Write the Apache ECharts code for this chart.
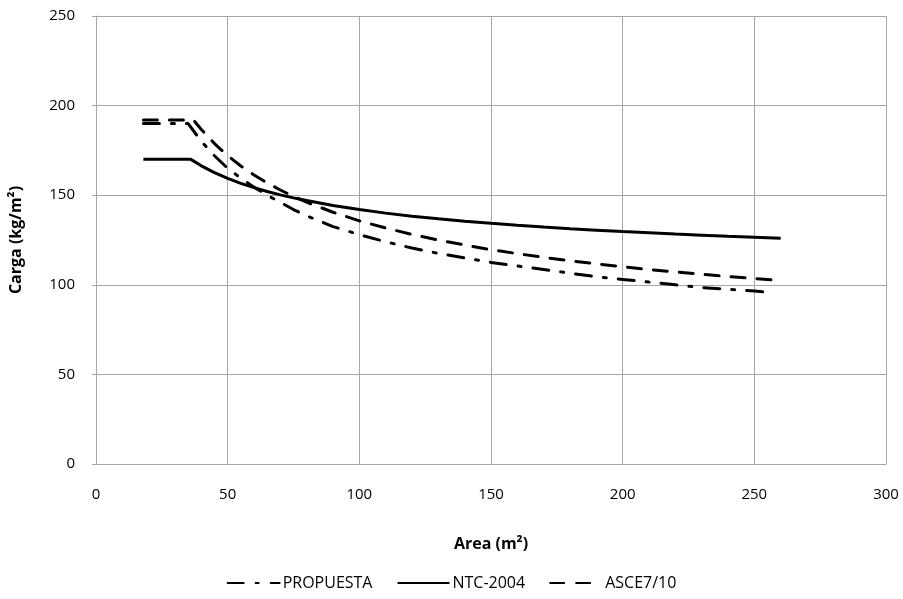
<!DOCTYPE html>
<html>
<head>
<meta charset="utf-8">
<script src="https://cdn.jsdelivr.net/npm/echarts@6/dist/echarts.min.js"></script>
<style>html,body{margin:0;padding:0;background:#fff}#c{width:903px;height:599px}</style>
</head>
<body>
<div id="c"></div>
<script>
const xTicks = [0, 50, 100, 150, 200, 250, 300];
const yTicks = [0, 50, 100, 150, 200, 250];

const propuestaX = [18, 35, 40, 45, 50, 55, 60, 65, 70, 75, 80, 90, 100, 110, 120, 130, 140, 150, 160, 170, 180, 190, 200, 210, 220, 230, 240, 250, 256];
const propuestaY = [190, 190, 180, 172, 165, 159.5, 154.5, 150, 146, 142, 138.5, 132.5, 128, 124, 120.5, 117.5, 115, 112.5, 110.5, 108.5, 106.5, 104.5, 103, 101.5, 100, 98.5, 97.5, 96.5, 95.7];

const ntcX = [18, 36, 40, 45, 50, 55, 60, 65, 70, 75, 80, 90, 100, 110, 120, 130, 140, 150, 160, 170, 180, 190, 200, 210, 220, 230, 240, 250, 260];
const ntcY = [170, 170, 166.4, 162.6, 159.4, 156.6, 154.2, 152.1, 150.2, 148.5, 147, 144.3, 142, 140, 138.3, 136.8, 135.5, 134.3, 133.2, 132.2, 131.3, 130.5, 129.7, 129, 128.3, 127.7, 127.1, 126.6, 126];

const asceX = [18, 37, 40, 45, 50, 55, 60, 65, 70, 75, 80, 90, 100, 110, 120, 130, 140, 150, 160, 170, 180, 190, 200, 210, 220, 230, 240, 250, 260];
const asceY = [192, 192, 186.7, 178.8, 172.1, 166.3, 161.3, 156.8, 152.9, 149.3, 146.1, 140.5, 135.7, 131.7, 128.1, 125, 122.2, 119.6, 117.4, 115.3, 113.4, 111.7, 110.1, 108.5, 107.2, 105.9, 104.6, 103.5, 102.4];

const names = ['PROPUESTA', 'NTC-2004', 'ASCE7/10'];

function pairs(xs, ys) { return xs.map((x, i) => [x, ys[i]]); }

const FONT = "'Open Sans', sans-serif";
const chart = echarts.init(document.getElementById('c'), null, {renderer: 'canvas'});
const grid = '#a6a6a6';
chart.setOption({
  animation: false,
  backgroundColor: '#fff',
  grid: {left: 95, right: 17, top: 16, bottom: 135, containLabel: false},
  legend: {
    bottom: 3, left: 'center', itemWidth: 52, itemHeight: 10, itemGap: 24,
    itemStyle: {opacity: 0},
    textStyle: {fontFamily: FONT, fontSize: 16, color: '#000', padding: [0, 0, 0, -2]},
    data: names
  },
  xAxis: {
    type: 'value', min: 0, max: 300, interval: 50,
    name: 'Area (m²)', nameLocation: 'middle', nameGap: 72,
    nameTextStyle: {fontFamily: FONT, fontSize: 16, fontWeight: 'bold', color: '#000'},
    axisLine: {lineStyle: {color: grid}},
    axisTick: {show: false},
    splitLine: {show: true, lineStyle: {color: grid, width: 1}},
    axisLabel: {margin: 23, fontFamily: FONT, fontSize: 15, color: '#000',
      formatter: v => xTicks.includes(v) ? String(v) : ''}
  },
  yAxis: {
    type: 'value', min: 0, max: 250, interval: 50,
    name: 'Carga (kg/m²)', nameLocation: 'middle', nameGap: 72, nameRotate: 90,
    nameTextStyle: {fontFamily: FONT, fontSize: 16, fontWeight: 'bold', color: '#000'},
    axisLine: {show: true, lineStyle: {color: grid}},
    axisTick: {show: true, length: 4, lineStyle: {color: grid}},
    splitLine: {show: true, lineStyle: {color: grid, width: 1}},
    axisLabel: {margin: 21, fontFamily: FONT, fontSize: 15, color: '#000',
      formatter: v => yTicks.includes(v) ? String(v) : ''}
  },
  series: [
    {name: names[0], type: 'line', symbol: 'none', smooth: false, data: pairs(propuestaX, propuestaY),
      itemStyle: {color: '#000'},
      lineStyle: {color: '#000', width: 3, type: [16, 12, 3, 12], cap: 'round'}},
    {name: names[1], type: 'line', symbol: 'none', data: pairs(ntcX, ntcY),
      itemStyle: {color: '#000'},
      lineStyle: {color: '#000', width: 3, type: 'solid'}},
    {name: names[2], type: 'line', symbol: 'none', data: pairs(asceX, asceY),
      itemStyle: {color: '#000'},
      lineStyle: {color: '#000', width: 3, type: [14, 12], cap: 'round'}}
  ]
});
</script>
</body>
</html>
